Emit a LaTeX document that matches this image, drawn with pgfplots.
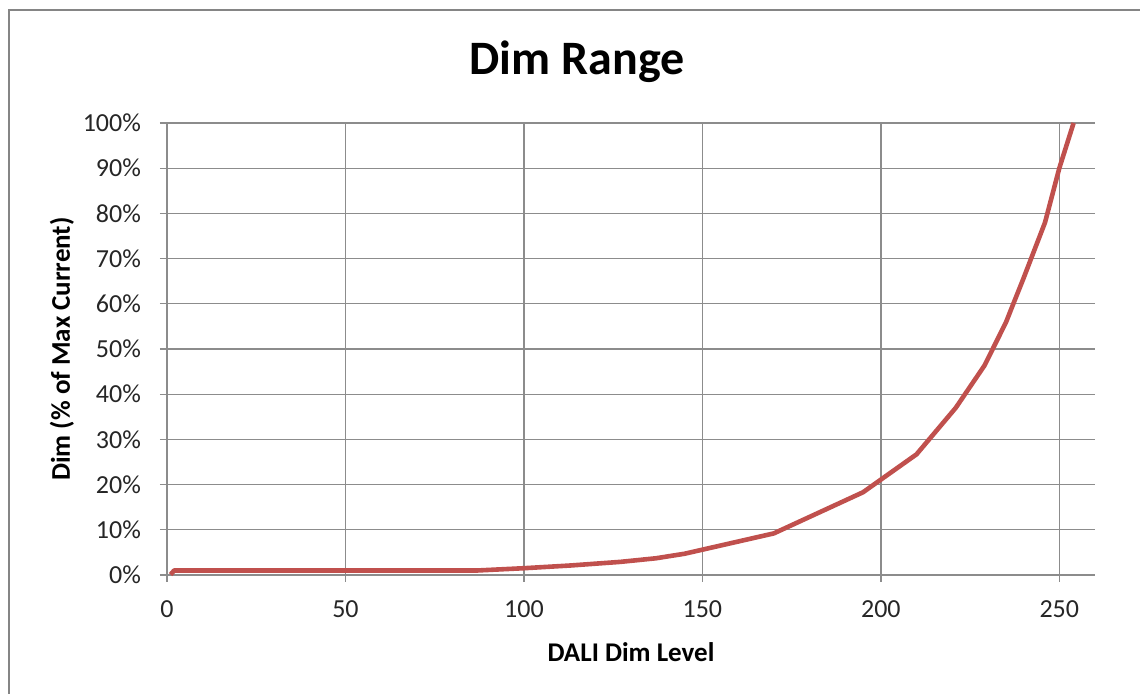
\documentclass[border=0pt]{standalone}
\usepackage{fontspec}
\setmainfont{Carlito}
\usepackage{pgfplots}
\pgfplotsset{compat=1.18}
\definecolor{linered}{HTML}{C0504D}
\definecolor{gridgray}{HTML}{8C8C8C}
\definecolor{framegray}{HTML}{858585}
\begin{document}
\begin{tikzpicture}[x=1pt,y=1pt]
\useasboundingbox (0,0) rectangle (570,347);
\draw[framegray, line width=1pt] (4.5,0) -- (4.5,342) -- (570,342);
\node[font=\fontsize{24}{29}\selectfont\bfseries] at (288.5,316) {Dim Range};
\begin{axis}[
  at={(83.5pt,59.5pt)}, anchor=south west,
  width=464pt, height=226pt, scale only axis,
  xmin=0, xmax=260, ymin=0, ymax=100,
  xtick={0,50,...,250}, ytick={0,10,...,100},
  axis x line*=bottom, axis y line*=left,
  axis line style={-, gridgray, line width=0.65pt},
  tick align=outside, major tick length=3.5pt,
  tick style={gridgray, line width=0.65pt},
  grid=major, major grid style={gridgray, line width=0.65pt},
  /pgf/number format/assume math mode=true,
  ticklabel style={font=\fontsize{13}{15}\selectfont, text=black!85},
  yticklabel style={xshift=-6pt},
  xticklabel style={yshift=-6pt},
  yticklabel={\pgfmathprintnumber{\tick}\%},
  xlabel={DALI Dim Level},
  ylabel={Dim (\% of Max Current)},
  label style={font=\fontsize{13.5}{16}\selectfont\bfseries},
  xlabel style={at={(axis description cs:0.5,0)}, anchor=center, yshift=-38.5pt},
  ylabel style={at={(axis description cs:0,0.5)}, anchor=center, rotate=0, yshift=52.5pt},
  clip=false,
]
\addplot[linered, line width=2.3pt, line join=round] coordinates {
(1,0.1) (2,1) (87,1) (100,1.5) (113,2.1) (127,2.9) (137,3.7) (145,4.7)
(170,9.2) (195,18.3) (210,26.7) (221,37) (229,46.3) (235,55.8)
(240,65.7) (246,78) (250,90) (254,100)
};
\end{axis}
\end{tikzpicture}
\end{document}
